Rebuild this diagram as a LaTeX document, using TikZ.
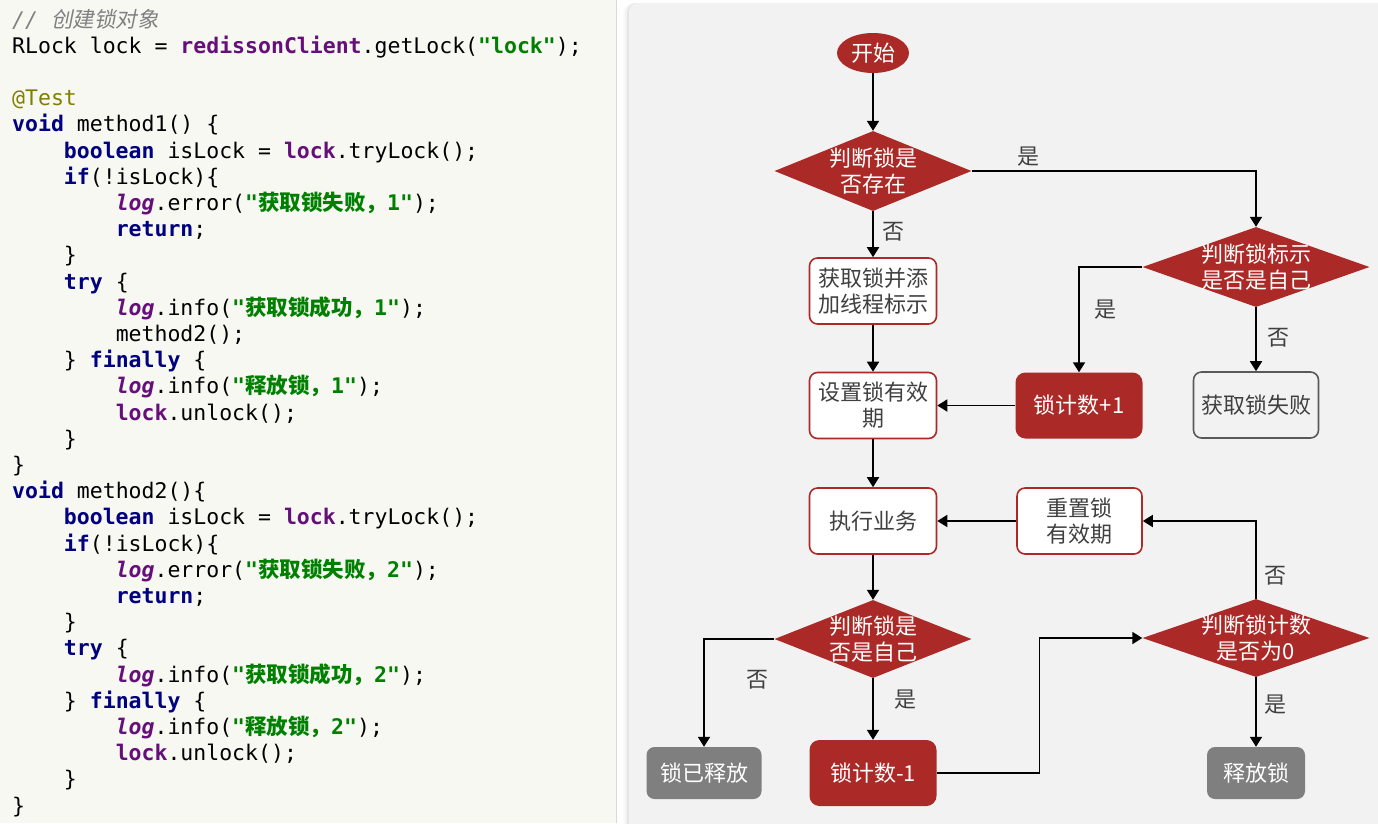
\documentclass[tikz,border=0pt]{standalone}
\usepackage{fontspec}
\setmonofont{DejaVu Sans Mono}
\newfontfamily\cjk{Noto Sans CJK SC}
\newfontfamily\cjkit[FakeSlant=0.2]{Noto Sans CJK SC}
\usetikzlibrary{shapes.geometric, arrows.meta, calc}

\definecolor{codebg}{RGB}{247,248,242}
\definecolor{flowbg}{RGB}{242,242,242}
\definecolor{lockred}{RGB}{171,42,40}
\definecolor{boxgrey}{RGB}{127,127,127}
\definecolor{failgrey}{RGB}{89,89,89}
\definecolor{labelgrey}{RGB}{64,64,64}
\definecolor{kwblue}{RGB}{0,0,128}
\definecolor{fldpurple}{RGB}{102,14,122}
\definecolor{strgreen}{RGB}{0,128,0}
\definecolor{anngold}{RGB}{128,128,0}
\definecolor{comgrey}{RGB}{128,128,128}

% code colouring
\newcommand{\ckw}[1]{\textcolor{kwblue}{\bfseries #1}}
\newcommand{\cfld}[1]{\textcolor{fldpurple}{\bfseries #1}}
\newcommand{\clog}[1]{\textcolor{fldpurple}{\bfseries\itshape #1}}
\newcommand{\cstr}[1]{\textcolor{strgreen}{\bfseries #1}}
\newcommand{\ccom}[1]{\textcolor{comgrey}{\itshape #1}}
\newcommand{\cin}{\phantom{xxxx}}
\newcommand{\flowfont}{\cjk\fontsize{22}{26}\selectfont}

\begin{document}
\begin{tikzpicture}[x=1pt, y=-1pt,
  codeline/.style={anchor=base west, inner sep=0pt, text=black,
    font=\ttfamily\fontsize{21.5}{26}\selectfont},
  arr/.style={-{Triangle[length=10pt, width=12pt]}, line width=1.8pt},
  lbl/.style={font=\flowfont, text=labelgrey},
  startnode/.style={ellipse, fill=lockred, text=white, font=\flowfont,
    minimum width=72pt, minimum height=40pt, inner sep=0pt},
  decision/.style={diamond, fill=lockred, text=white, font=\flowfont,
    align=center, inner sep=-25pt, minimum height=80pt},
  redbox/.style={rectangle, rounded corners=8pt, draw=lockred, line width=1.6pt,
    fill=white, text=labelgrey, font=\flowfont, align=center,
    minimum width=127pt, minimum height=66pt, inner sep=2pt},
  redfill/.style={rectangle, rounded corners=10pt, fill=lockred, text=white,
    font=\flowfont, minimum width=127pt, minimum height=66pt},
  greybox/.style={rectangle, rounded corners=8pt, fill=boxgrey, text=white,
    font=\flowfont, minimum height=52pt},
  failbox/.style={rectangle, rounded corners=8pt, draw=failgrey, line width=1.6pt,
    fill=flowbg, text=labelgrey, font=\flowfont,
    minimum width=125pt, minimum height=66pt}]
  \useasboundingbox (0,0) rectangle (1378,823);

  % Backgrounds
  \fill[white] (0,0) rectangle (1378,823);
  \fill[codebg] (0,0) rectangle (616,823);
  \draw[black!15, line width=1pt] (616,0) -- (616,823);
  \foreach \s/\o in {6/0.02, 4/0.03, 2/0.05}
    \fill[black, opacity=\o, rounded corners=10pt] (629-\s,3) rectangle (1400,840);
  \fill[flowbg, rounded corners=9pt] (629,3) rectangle (1400,840);

  % Code
  \foreach \t [count=\i] in {
    {\ccom{// {\cjkit 创建锁对象}}},
    {RLock lock = \cfld{redissonClient}.getLock(\cstr{"lock"});},
    {},
    {\textcolor{anngold}{@Test}},
    {\ckw{void} method1() \{},
    {\cin\ckw{boolean} isLock = \cfld{lock}.tryLock();},
    {\cin\ckw{if}(!isLock)\{},
    {\cin\cin\clog{log}.error(\cstr{"{\cjk 获取锁失败，}1"});},
    {\cin\cin\ckw{return};},
    {\cin\}},
    {\cin\ckw{try} \{},
    {\cin\cin\clog{log}.info(\cstr{"{\cjk 获取锁成功，}1"});},
    {\cin\cin method2();},
    {\cin\} \ckw{finally} \{},
    {\cin\cin\clog{log}.info(\cstr{"{\cjk 释放锁，}1"});},
    {\cin\cin\cfld{lock}.unlock();},
    {\cin\}},
    {\}},
    {\ckw{void} method2()\{},
    {\cin\ckw{boolean} isLock = \cfld{lock}.tryLock();},
    {\cin\ckw{if}(!isLock)\{},
    {\cin\cin\clog{log}.error(\cstr{"{\cjk 获取锁失败，}2"});},
    {\cin\cin\ckw{return};},
    {\cin\}},
    {\cin\ckw{try} \{},
    {\cin\cin\clog{log}.info(\cstr{"{\cjk 获取锁成功，}2"});},
    {\cin\} \ckw{finally} \{},
    {\cin\cin\clog{log}.info(\cstr{"{\cjk 释放锁，}2"});},
    {\cin\cin\cfld{lock}.unlock();},
    {\cin\}},
    {\}}}
    \node[codeline] (code\i) at (12,{27+26.2*(\i-1)}) {\t};

  % Flowchart nodes
  \node[startnode] (start) at (873,53) {开始};
  \node[decision, minimum width=197pt] (chkexist) at (873,171) {判断锁是\\否存在};
  \node[decision, minimum width=227pt] (chkowner) at (1256,267) {判断锁标示\\是否是自己};
  \node[redbox] (acquire) at (873,291) {获取锁并添\\加线程标示};
  \node[redbox] (setttl) at (873,405.5) {设置锁有效\\期};
  \node[redfill] (incr) at (1079,405.5) {锁计数+1};
  \node[failbox] (fail) at (1256,405) {获取锁失败};
  \node[redbox] (work) at (873,521) {执行业务};
  \node[redbox, minimum width=125pt] (resetttl) at (1079.5,521) {重置锁\\有效期};
  \node[decision, minimum width=197pt, minimum height=78pt] (chkself) at (873,639) {判断锁是\\否是自己};
  \node[greybox, minimum width=115pt] (released) at (704,773) {锁已释放};
  \node[redfill] (decr) at (873,773) {锁计数-1};
  \node[decision, minimum width=227pt, minimum height=78pt] (chkzero) at (1256,638) {判断锁计数\\是否为0};
  \node[greybox, minimum width=98pt] (unlock) at (1256,773) {释放锁};

  % Connectors
  \draw[arr] (start) -- (chkexist);
  \draw[arr] (chkexist.east) -| (chkowner.north)
    node[lbl, pos=0.1, above] {是};
  \draw[arr] (chkexist.south) -- (acquire.north)
    node[lbl, pos=0.45, right=5pt] {否};
  \draw[arr] (acquire) -- (setttl);
  \draw[arr] (chkowner.west) -| (incr.north)
    node[lbl, pos=0.7, right=11pt] {是};
  \draw[arr] (chkowner.south) -- (fail.north)
    node[lbl, pos=0.48, right=7pt] {否};
  \draw[arr] (incr) -- (setttl);
  \draw[arr] (setttl) -- (work);
  \draw[arr] (resetttl) -- (work);
  \draw[arr] (work) -- (chkself);
  \draw[arr] (chkself.west) -| (released.north)
    node[lbl, pos=0.69, right=38pt] {否};
  \draw[arr] (chkself.south) -- (decr.north)
    node[lbl, pos=0.35, right=17pt] {是};
  \draw[arr] (decr.east) -| ($(decr.east)!0.5!(chkzero.west)$) |- (chkzero.west);
  \draw[arr] (chkzero.north) |- (resetttl.east)
    node[lbl, pos=0.15, right=4pt] {否};
  \draw[arr] (chkzero.south) -- (unlock.north)
    node[lbl, pos=0.39, right=4pt] {是};
\end{tikzpicture}
\end{document}
